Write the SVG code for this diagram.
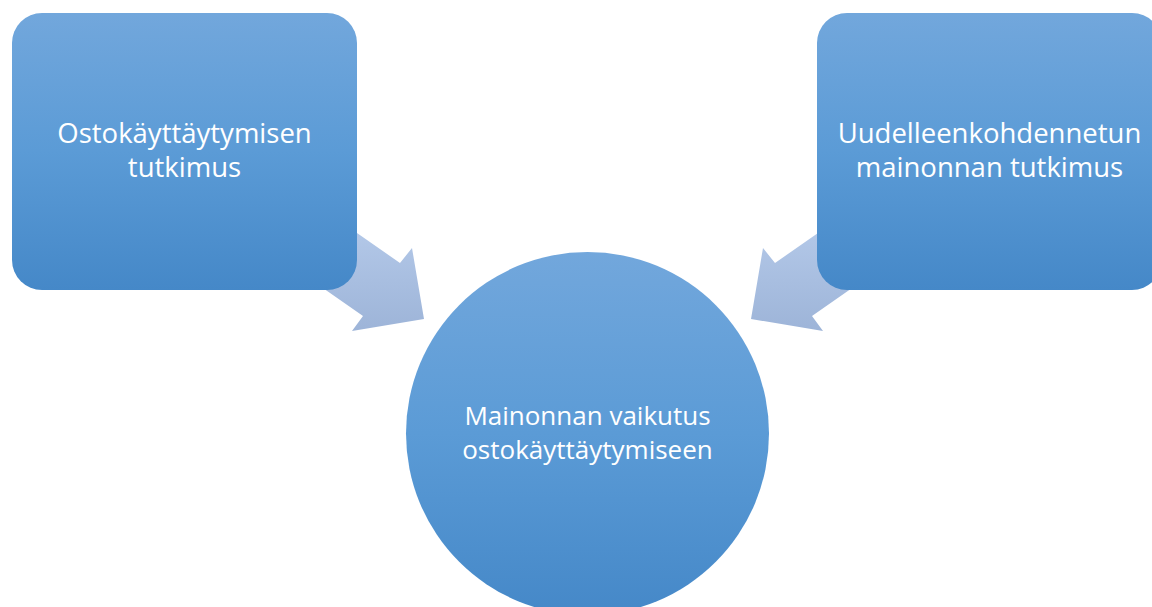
<svg xmlns="http://www.w3.org/2000/svg" width="1152" height="607" viewBox="0 0 1152 607">
<defs>
<linearGradient id="gBlue" x1="0" y1="0" x2="0" y2="1">
<stop offset="0" stop-color="#72a7dc"/>
<stop offset="0.5" stop-color="#5b9bd6"/>
<stop offset="1" stop-color="#4588c8"/>
</linearGradient>
<linearGradient id="gArrow" gradientUnits="userSpaceOnUse" x1="0" y1="230" x2="0" y2="332">
<stop offset="0" stop-color="#b3c8e8"/>
<stop offset="1" stop-color="#9db4d8"/>
</linearGradient>
<style>
.node{fill:url(#gBlue);}
.arrow{fill:url(#gArrow);}
.lbl{font-family:"Open Sans","Noto Sans",sans-serif;font-size:27.5px;fill:#ffffff;text-anchor:middle;}
.lbl2{font-size:26px;}
</style>
</defs>
<rect width="1152" height="607" fill="#ffffff"/>
<g id="connectors">
<polygon class="arrow" points="314,203 400,263 412,248 424,319 352,331 363,316 277,256"/>
<polygon class="arrow" points="861,203 775,263 763,248 751,319 823,331 812,316 898,256"/>
</g>
<g id="node-left">
<rect class="node" x="12" y="13" width="345" height="277" rx="30" ry="30"/>
<text class="lbl" x="184.5" y="143">Ostokäyttäytymisen</text>
<text class="lbl" x="184.5" y="177">tutkimus</text>
</g>
<g id="node-right">
<rect class="node" x="817" y="13" width="345" height="277" rx="30" ry="30"/>
<text class="lbl" x="989.5" y="143">Uudelleenkohdennetun</text>
<text class="lbl" x="989.5" y="177">mainonnan tutkimus</text>
</g>
<g id="node-center">
<circle class="node" cx="587.5" cy="433.5" r="181.5"/>
<text class="lbl lbl2" x="587.5" y="425">Mainonnan vaikutus</text>
<text class="lbl lbl2" x="587.5" y="459">ostokäyttäytymiseen</text>
</g>
</svg>
